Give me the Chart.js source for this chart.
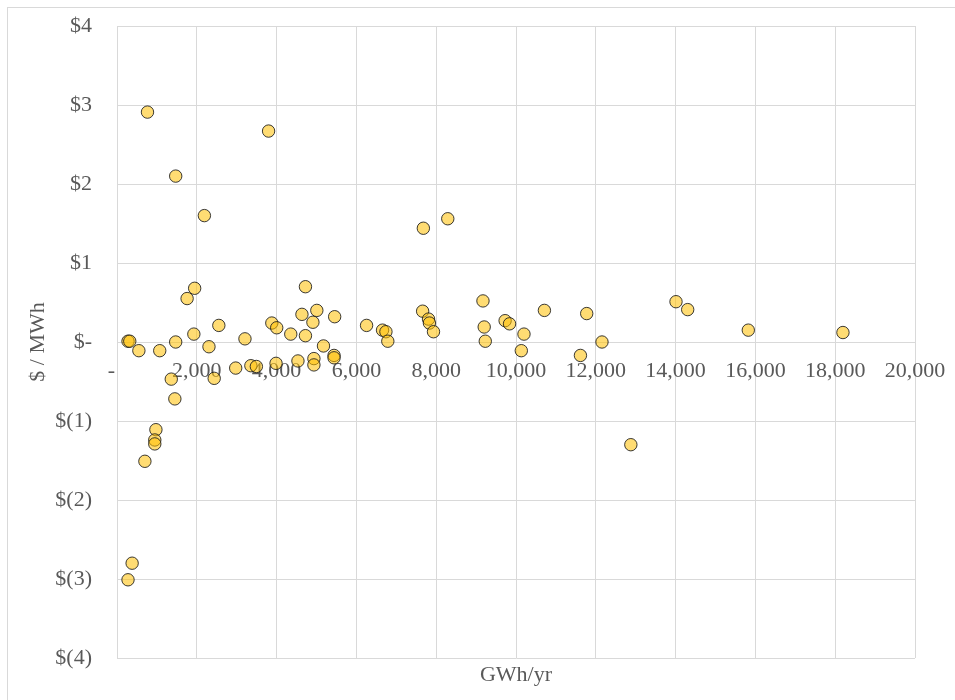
<!DOCTYPE html>
<html>
<head>
<meta charset="utf-8">
<script src="https://cdn.jsdelivr.net/npm/chart.js@4.4.1/dist/chart.umd.min.js"></script>
<style>
  html, body { margin: 0; padding: 0; background: #ffffff; overflow: hidden; }
  #frame { position: absolute; left: 7px; top: 7px; width: 1200px; height: 1000px;
           border-top: 1px solid #d9d9d9; border-left: 1px solid #d9d9d9; }
  #c { position: absolute; left: 0; top: 0; }
</style>
</head>
<body>
<div id="frame"></div>
<canvas id="c" width="955" height="700"></canvas>
<script>
// GWh/yr (x) and $ / MWh (y) for each plotted point
const gwhPerYear = [
  276, 320, 548, 764, 1071, 1471, 1471, 1360, 1450, 975,
  947, 947, 699, 379, 276, 1757, 1946, 1926, 2190, 2305,
  2436, 2552, 2975, 3207, 3355, 3493, 3799, 3880, 4003, 3986,
  4355, 4535, 4635, 4723, 4723, 4910, 5008, 4935, 4935, 5175,
  5455, 5440, 5440, 6255, 6655, 6740, 6787, 7678, 8290, 7660,
  7808, 7830, 7932, 9172, 9203, 9230, 9727, 9838, 10200, 10133,
  10712, 11772, 11615, 12155, 12878, 14010, 14303, 15822, 18194
];
const dollarsPerMWh = [
  0.01, 0.01, -0.11, 2.91, -0.11, 2.10, 0.00, -0.47, -0.72, -1.11,
  -1.24, -1.29, -1.51, -2.80, -3.01, 0.55, 0.68, 0.10, 1.60, -0.06,
  -0.46, 0.21, -0.33, 0.04, -0.30, -0.31, 2.67, 0.24, 0.18, -0.27,
  0.10, -0.24, 0.35, 0.70, 0.08, 0.25, 0.40, -0.21, -0.29, -0.05,
  0.32, -0.17, -0.20, 0.21, 0.15, 0.13, 0.01, 1.44, 1.56, 0.39,
  0.29, 0.24, 0.13, 0.52, 0.19, 0.01, 0.27, 0.23, 0.10, -0.11,
  0.40, 0.36, -0.17, 0.00, -1.30, 0.51, 0.41, 0.15, 0.12
];
const xTitle = 'GWh/yr';
const yTitle = '$ / MWh';
const xMin = 0, xMax = 20000, xStep = 2000;
const yMin = -4, yMax = 4, yStep = 1;

const FONT = '"Liberation Serif", "Times New Roman", serif';
const TEXT = '#595959';
const GRID = '#d9d9d9';

const points = gwhPerYear.map((x, i) => ({ x: x, y: dollarsPerMWh[i] }));

const xTitlePlugin = {
  id: 'xTitlePlugin',
  afterDraw(chart) {
    const ctx = chart.ctx;
    const a = chart.chartArea;
    ctx.save();
    ctx.font = '22px ' + FONT;
    ctx.fillStyle = TEXT;
    ctx.textAlign = 'center';
    ctx.textBaseline = 'middle';
    ctx.fillText(xTitle, (a.left + a.right) / 2, a.bottom + 17);
    ctx.restore();
  }
};

new Chart(document.getElementById('c'), {
  type: 'scatter',
  data: {
    datasets: [{
      data: points,
      backgroundColor: 'rgba(255, 192, 0, 0.55)',
      borderColor: 'rgba(25, 25, 25, 0.85)',
      borderWidth: 1,
      pointRadius: 6.2,
      pointHoverRadius: 6.2
    }]
  },
  options: {
    responsive: false,
    animation: false,
    devicePixelRatio: 1,
    layout: { padding: { left: 0, top: 26, right: 40, bottom: 42 } },
    plugins: { legend: { display: false }, tooltip: { enabled: false } },
    scales: {
      x: {
        type: 'linear',
        position: { y: 0 },
        min: xMin, max: xMax,
        grid: { color: GRID, drawTicks: true, tickLength: 16, tickColor: 'rgba(0,0,0,0)', lineWidth: 1 },
        border: { color: GRID },
        ticks: {
          stepSize: xStep,
          padding: 0,
          maxRotation: 0,
          autoSkip: false,
          color: TEXT,
          font: { family: FONT, size: 22 },
          callback: (v) => v === 0 ? '-  ' : v.toLocaleString('en-US')
        }
      },
      y: {
        type: 'linear',
        min: yMin, max: yMax,
        grid: { color: GRID, drawTicks: true, tickLength: 25, tickColor: 'rgba(0,0,0,0)', lineWidth: 1 },
        border: { color: GRID },
        afterFit: (scale) => { scale.width = 117; },
        ticks: {
          stepSize: yStep,
          padding: 0,
          color: TEXT,
          font: { family: FONT, size: 22 },
          callback: (v) => v === 0 ? '$-' : (v < 0 ? '$(' + (-v) + ')' : '$' + v)
        },
        title: {
          display: true,
          text: yTitle,
          color: TEXT,
          font: { family: FONT, size: 22 },
          padding: { top: 25, bottom: 0 }
        }
      }
    }
  },
  plugins: [xTitlePlugin]
});
</script>
</body>
</html>
